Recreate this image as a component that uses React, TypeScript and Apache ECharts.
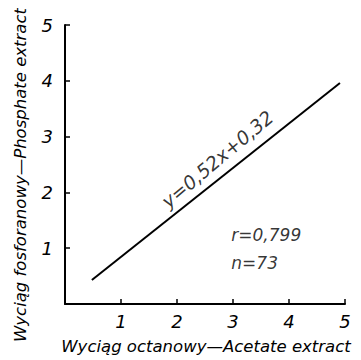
import React, { useEffect, useRef } from "react";
import * as echarts from "echarts";

const xTicks = [1, 2, 3, 4, 5];
const yTicks = [1, 2, 3, 4, 5];
const regressionLine: [number, number][] = [
  [0.48, 0.43],
  [4.91, 3.96],
];
const equationText = "y=0,52x+0,32";
const equationPos: [number, number] = [2.72, 2.6];
const statsTexts = ["r=0,799", "n=73"];
const statsPos: [number, number][] = [
  [2.97, 1.23],
  [2.97, 0.73],
];
const xTitle = "Wyciąg octanowy—Acetate extract";
const yTitle = "Wyciąg fosforanowy—Phosphate extract";

const FONT = "DejaVu Sans";

export default function App() {
  const ref = useRef<HTMLDivElement>(null);
  useEffect(() => {
    if (!ref.current) return;
    const chart = echarts.init(ref.current, null, { renderer: "svg" });
    const axisCommon = {
      min: 0,
      max: 5,
      interval: 1,
      axisLine: { show: true, lineStyle: { color: "#000", width: 2 } },
      axisTick: { show: true, inside: true, length: 5, lineStyle: { color: "#000", width: 1.5 } },
      splitLine: { show: false },
    };
    const titleStyle = {
      fontFamily: FONT,
      fontStyle: "italic",
      fontSize: 16.5,
      fill: "#000",
      align: "center",
      verticalAlign: "middle",
    };
    chart.setOption({
      animation: false,
      backgroundColor: "#fff",
      grid: { left: 65, right: 16, top: 25, bottom: 56, containLabel: false },
      graphic: [
        { type: "text", x: 206, y: 346, style: { ...titleStyle, text: xTitle } },
        { type: "text", x: 20, y: 175, rotation: Math.PI / 2, style: { ...titleStyle, text: yTitle } },
      ],
      xAxis: {
        type: "value",
        ...axisCommon,
        axisLabel: {
          fontFamily: FONT,
          fontStyle: "italic",
          fontSize: 18,
          color: "#000",
          margin: 8,
          formatter: (v: number) => (xTicks.includes(v) ? String(v) : ""),
        },
      },
      yAxis: {
        type: "value",
        ...axisCommon,
        axisLabel: {
          fontFamily: FONT,
          fontStyle: "italic",
          fontSize: 18,
          color: "#000",
          margin: 12,
          formatter: (v: number) => (yTicks.includes(v) ? String(v) : ""),
        },
      },
      series: [
        {
          type: "line",
          data: regressionLine,
          symbol: "none",
          lineStyle: { color: "#000", width: 2 },
        },
        {
          type: "scatter",
          data: [equationPos],
          symbolSize: 0,
          label: {
            show: true,
            position: "inside",
            formatter: equationText,
            rotate: 40,
            fontFamily: FONT,
            fontStyle: "italic",
            fontSize: 19,
            color: "#000",
          },
        },
        {
          type: "scatter",
          data: statsPos.map((p, i) => ({ value: p, name: statsTexts[i] })),
          symbolSize: 0,
          label: {
            show: true,
            position: "right",
            distance: 0,
            formatter: (p: any) => p.name,
            fontFamily: FONT,
            fontStyle: "italic",
            fontSize: 17,
            color: "#000",
          },
        },
      ],
    });
    return () => chart.dispose();
  }, []);
  return <div ref={ref} style={{ width: 361, height: 360, marginLeft: -8, marginTop: -8 }} />;
}
